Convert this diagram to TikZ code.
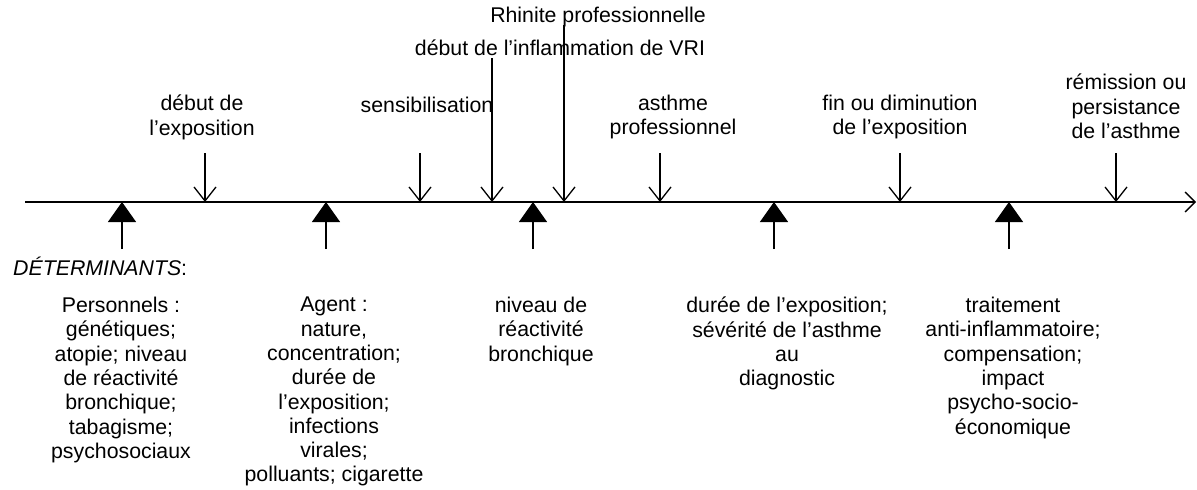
\documentclass[tikz,border=0pt]{standalone}
\usepackage{fontspec}
\setmainfont{Liberation Sans}
\usetikzlibrary{arrows.meta,positioning}
\tikzset{
  lbl/.style={font=\fontsize{21.3}{24.3}\selectfont,align=center,inner sep=0pt,anchor=north,
    execute at begin node=\strut},
  downarr/.style={-{Straight Barb[length=14pt,width=22pt]},line width=1.3pt},
  uparr/.style={-{Triangle[length=20pt,width=28pt]},line width=1.3pt},
  axisarr/.style={-{Straight Barb[length=10pt,width=20pt]},line width=1.3pt},
}

\begin{document}
\begin{tikzpicture}[x=1pt,y=1pt]
  \useasboundingbox (0,0) rectangle (1197,-490);
  % time axis
  \coordinate (t0) at (25,-202);
  \coordinate (tEnd) at (1196,-202);
  \draw[axisarr] (t0) -- (tEnd);

  % events (above the axis)
  \node[lbl] (expo) at (202,-95) {début de\\l’exposition};
  \node[lbl] (sensib) at (427,-95) {sensibilisation};
  \node[lbl] (inflam) at (560,-38) {début de l’inflammation de VRI};
  \node[lbl] (rhinite) at (598,-5) {Rhinite professionnelle};
  \node[lbl] (asthme) at (673,-95) {asthme\\professionnel};
  \node[lbl] (finexpo) at (900,-95) {fin ou diminution\\de l’exposition};
  \node[lbl] (remis) at (1126,-74) {rémission ou\\persistance\\de l’asthme};

  \coordinate (dExpo) at (205,-153);
  \coordinate (dSensib) at (420,-153);
  \coordinate (dInflam) at (492,-58);
  \coordinate (dRhinite) at (564,-25);
  \coordinate (dAsthme) at (660,-153);
  \coordinate (dFin) at (900,-153);
  \coordinate (dRemis) at (1116,-153);
  \draw[downarr] (dExpo) -- (dExpo |- t0);
  \draw[downarr] (dSensib) -- (dSensib |- t0);
  \draw[downarr] (dInflam) -- (dInflam |- t0);
  \draw[downarr] (dRhinite) -- (dRhinite |- t0);
  \draw[downarr] (dAsthme) -- (dAsthme |- t0);
  \draw[downarr] (dFin) -- (dFin |- t0);
  \draw[downarr] (dRemis) -- (dRemis |- t0);

  % determinants (below the axis)
  \node[lbl,anchor=base west,execute at begin node={}] (determ) at (13,-275) {\textit{DÉTERMINANTS}:};
  \coordinate (uPers) at (122,-249);
  \coordinate (uAgent) at (326,-249);
  \coordinate (uNiveau) at (533,-249);
  \coordinate (uDuree) at (774,-249);
  \coordinate (uTrait) at (1009,-249);
  \draw[uparr] (uPers) -- (uPers |- t0);
  \draw[uparr] (uAgent) -- (uAgent |- t0);
  \draw[uparr] (uNiveau) -- (uNiveau |- t0);
  \draw[uparr] (uDuree) -- (uDuree |- t0);
  \draw[uparr] (uTrait) -- (uTrait |- t0);

  \node[lbl] (pers) at (121,-297) {Personnels :\\génétiques;\\atopie; niveau\\de réactivité\\bronchique;\\tabagisme;\\psychosociaux};
  \node[lbl] (agent) at (334,-297) {Agent :\\nature,\\concentration;\\durée de\\l’exposition;\\infections\\virales;\\polluants; cigarette};
  \node[lbl] (niveau) at (541,-297) {niveau de\\réactivité\\bronchique};
  \node[lbl] (duree) at (787,-297) {durée de l’exposition;\\sévérité de l’asthme\\au\\diagnostic};
  \node[lbl] (trait) at (1013,-297) {traitement\\anti-inflammatoire;\\compensation;\\impact\\psycho-socio-\\économique};
\end{tikzpicture}
\end{document}
